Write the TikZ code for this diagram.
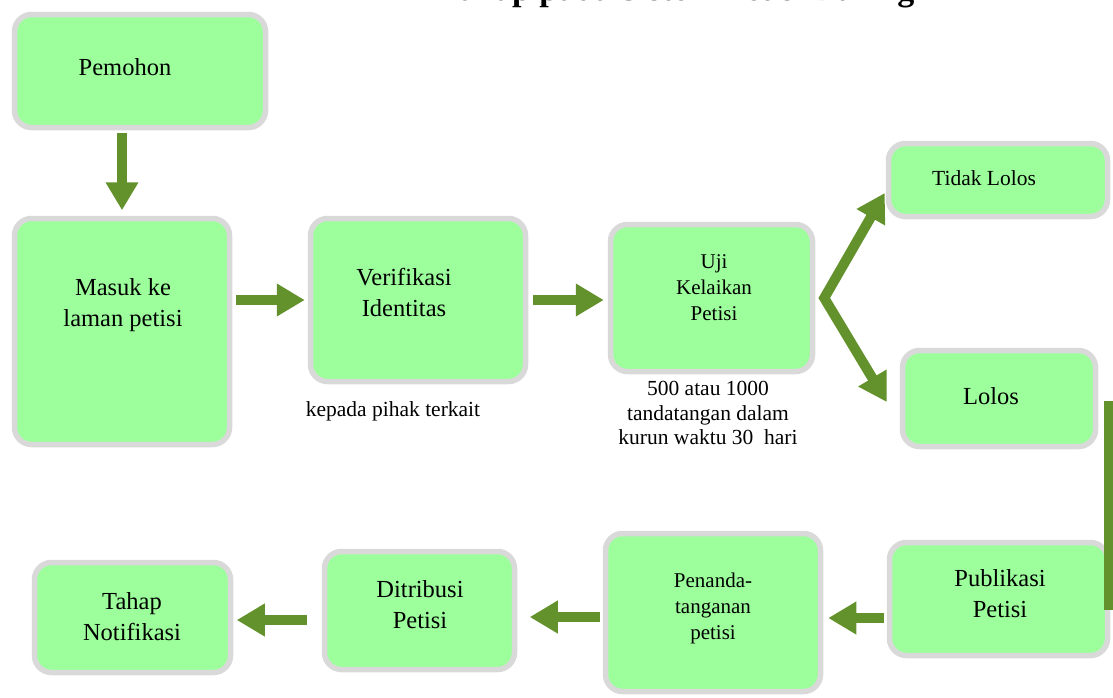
\documentclass[tikz,border=0pt]{standalone}
\usepackage{fontspec}
\setmainfont{Liberation Serif}
\usetikzlibrary{arrows.meta}
\definecolor{boxgreen}{RGB}{156,255,156}
\definecolor{boxgray}{RGB}{217,217,217}
\definecolor{arrgreen}{RGB}{99,146,44}
\begin{document}
\begin{tikzpicture}[x=1pt,y=-1pt,
  box/.style={draw=boxgray, line width=5.5pt, fill=boxgreen, rounded corners=17pt, inner sep=0pt},
  lbl/.style={font=\fontsize{24.5}{31}\selectfont, align=center, inner sep=0pt},
  lblsmall/.style={font=\fontsize{21}{26}\selectfont, align=center, inner sep=0pt},
  note/.style={font=\fontsize{21.5}{24.5}\selectfont, align=center, inner sep=0pt},
  ar/.style={arrgreen, line width=10pt, -{Triangle[length=28pt,width=31pt]}},
  arboth/.style={arrgreen, line width=10pt, line join=miter, {Triangle[length=28pt,width=31pt]}-{Triangle[length=28pt,width=31pt]}},
  bar/.style={arrgreen, line width=10pt}
]
\useasboundingbox (0,0) rectangle (1113,697);
\clip (0,0) rectangle (1113,697);

% title (cut off at the top edge, as in the reference)
\node[font=\fontsize{34}{36}\selectfont\bfseries, anchor=base, inner sep=0pt] (title) at (677,0) {Tahap pada Sistem Petisi Daring};

% boxes
\node[box, minimum width=251pt, minimum height=113pt] (pem) at (140,71) {};
\node[box, minimum width=215pt, minimum height=226pt] (mas) at (122,331.5) {};
\node[box, minimum width=215pt, minimum height=163pt] (ver) at (418,300) {};
\node[box, minimum width=202pt, minimum height=147pt] (uji) at (711.5,298) {};
\node[box, minimum width=219pt, minimum height=73pt] (tid) at (998,180) {};
\node[box, minimum width=193pt, minimum height=96pt] (lol) at (999,398.5) {};
\node[box, minimum width=218pt, minimum height=113pt] (pub) at (998.5,599) {};
\node[box, minimum width=215pt, minimum height=158pt] (pen) at (713,612.5) {};
\node[box, minimum width=190pt, minimum height=118pt] (dit) at (419.5,610.5) {};
\node[box, minimum width=196pt, minimum height=110pt] (tah) at (132.5,617.5) {};

% box texts
\node[lbl] (pemt) at (125,67) {Pemohon};
\node[lbl] (mast) at (123,305) {Masuk ke\\laman petisi};
\node[lbl] (vert) at (404,292) {Verifikasi\\Identitas};
\node[lblsmall] (ujit) at (714,288) {Uji\\Kelaikan\\Petisi};
\node[note] (tidt) at (984,178) {Tidak Lolos};
\node[lbl] (lolt) at (991,396) {Lolos};
\node[lbl] (pubt) at (1000,594) {Publikasi\\Petisi};
\node[lblsmall] (pent) at (713,608) {Penanda-\\tanganan\\petisi};
\node[lbl] (ditt) at (420,605) {Ditribusi\\Petisi};
\node[lbl] (taht) at (132,617) {Tahap\\Notifikasi};

% notes
\node[note] (note1) at (393,411) {kepada pihak terkait};
\node[note] (note2) at (708,413) {500 atau 1000\\tandatangan dalam\\kurun waktu 30\ \ hari};

% connectors
\draw[ar, shorten <=3pt, shorten >=5.5pt] (pem.south -| mas.north) -- (mas.north);
\draw[ar, shorten <=4pt, shorten >=3pt] (mas.east |- ver.west) -- (ver.west);
\draw[ar, shorten <=4.5pt, shorten >=4pt] (ver.east) -- (uji.west |- ver.east);
\coordinate (fork) at ([xshift=9pt]uji.east);
\coordinate (tidtip) at ([xshift=-1pt,yshift=-13pt]tid.west);
\coordinate (loltip) at ([xshift=-13pt,yshift=-3.5pt]lol.west);
\draw[arboth] (tidtip) -- (fork) -- (loltip);
\coordinate (barTop) at (1109,401);
\coordinate (barBot) at (1109,610);
\draw[bar] (barTop) -- (barBot);
\draw[ar, shorten <=2.5pt, shorten >=5pt] ([yshift=-19pt]pub.west) -- (pen.east |- 0,618);
\draw[ar, shorten <=2.5pt, shorten >=12.5pt] ([yshift=-4.5pt]pen.west) -- (dit.east |- 0,617);
\draw[ar, shorten <=14.5pt, shorten >=3.5pt] ([yshift=-9.5pt]dit.west) -- (tah.east |- 0,620);
\end{tikzpicture}
\end{document}
